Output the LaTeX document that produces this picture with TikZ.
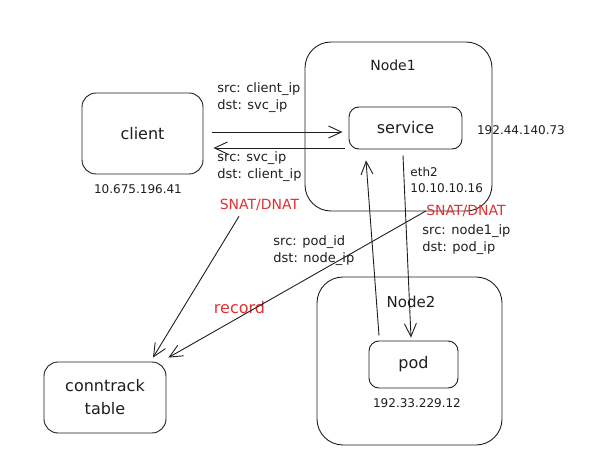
\documentclass[tikz,border=0pt]{standalone}
\usepackage{fontspec}
\setmainfont{DejaVu Sans}
\usetikzlibrary{arrows.meta}
\definecolor{ink}{HTML}{1E1E1E}
\definecolor{natred}{HTML}{E03131}

\begin{document}
\begin{tikzpicture}[x=1pt,y=-1pt,line width=0.9pt,draw=ink,
	box/.style={draw=ink,rounded corners=14pt,font=\fontsize{16}{23}\selectfont,align=center,text=ink},
	bigbox/.style={draw=ink,rounded corners=26pt},
	lbl/.style={font=\fontsize{12}{16.5}\selectfont,align=left,inner sep=0pt,text=ink},
	pktlbl/.style={lbl,font=\fontsize{13}{16.5}\selectfont},
	natlbl/.style={font=\fontsize{14}{16}\selectfont,text=natred,inner sep=0pt},
	>={Straight Barb[length=13pt,width=12pt]}]
				\useasboundingbox (0,0) rectangle (589,465);
				% hosts
				\node[bigbox,minimum width=187pt,minimum height=169pt] (node1) at (398.5,126.5) {};
				\node[bigbox,minimum width=185pt,minimum height=168pt] (node2) at (409.5,361) {};
				\node[lbl,font=\fontsize{14}{16}\selectfont] (node1lbl) at (393,65) {Node1};
				\node[lbl,font=\fontsize{15}{16}\selectfont] (node2lbl) at (411,302) {Node2};
				% boxes
				\node[box,minimum width=121pt,minimum height=81pt] (client) at (142.5,133.5) {client};
				\node[box,rounded corners=10pt,minimum width=113pt,minimum height=42pt] (service) at (405.5,128) {service};
				\node[box,rounded corners=10pt,minimum width=89pt,minimum height=47pt] (pod) at (413.5,364.5) {pod};
				\node[box,minimum width=122pt,minimum height=71pt] (conntrack) at (105,397.5) {conntrack\\table};
				% addresses
				\node[lbl] (clientip) at (138,189) {10.675.196.41};
				\node[lbl] (svcip) at (521,130) {192.44.140.73};
				\node[lbl] (podip) at (417,403) {192.33.229.12};
				\node[lbl,anchor=west] (eth) at (410,180) {eth2\\10.10.10.16};
				% packets
				\node[pktlbl,anchor=west] (req) at (217,97.5) {src: client\_ip\\dst: svc\_ip};
				\node[pktlbl,anchor=west] (resp) at (217,166.5) {src: svc\_ip\\dst: client\_ip};
				\node[pktlbl,anchor=west] (podreq) at (273,250.5) {src: pod\_id\\dst: node\_ip};
				\node[pktlbl,anchor=west] (podresp) at (422,239.5) {src: node1\_ip\\dst: pod\_ip};
				\node[natlbl] (snatl) at (259.5,205) {SNAT/DNAT};
				\node[natlbl] (snatr) at (466,211) {SNAT/DNAT};
				\node[natlbl,font=\fontsize{16}{18}\selectfont] (record) at (239.5,308) {record};
				% traffic
				\draw[->] ([xshift=9pt,yshift=1.5pt]client.east) -- ([xshift=-6pt,yshift=-4pt]service.west);
				\draw[->] ([xshift=-4pt,yshift=-20pt]service.west) -- ([xshift=10pt,yshift=-14.5pt]client.east);
				\draw[->] ([xshift=-34.5pt,yshift=5pt]pod.north) -- ([xshift=-39.5pt,yshift=-11pt]service.south);
				\draw[->] ([xshift=-2.5pt,yshift=-6pt]service.south) -- ([xshift=-2.5pt,yshift=3pt]pod.north);
				\draw[->] ([xshift=-20.5pt,yshift=-5pt]snatl.south) -- ([xshift=48pt,yshift=4pt]conntrack.north);
				\draw[->] (snatr.west) -- ([xshift=2pt,yshift=4pt]conntrack.north east);
\end{tikzpicture}
\end{document}
